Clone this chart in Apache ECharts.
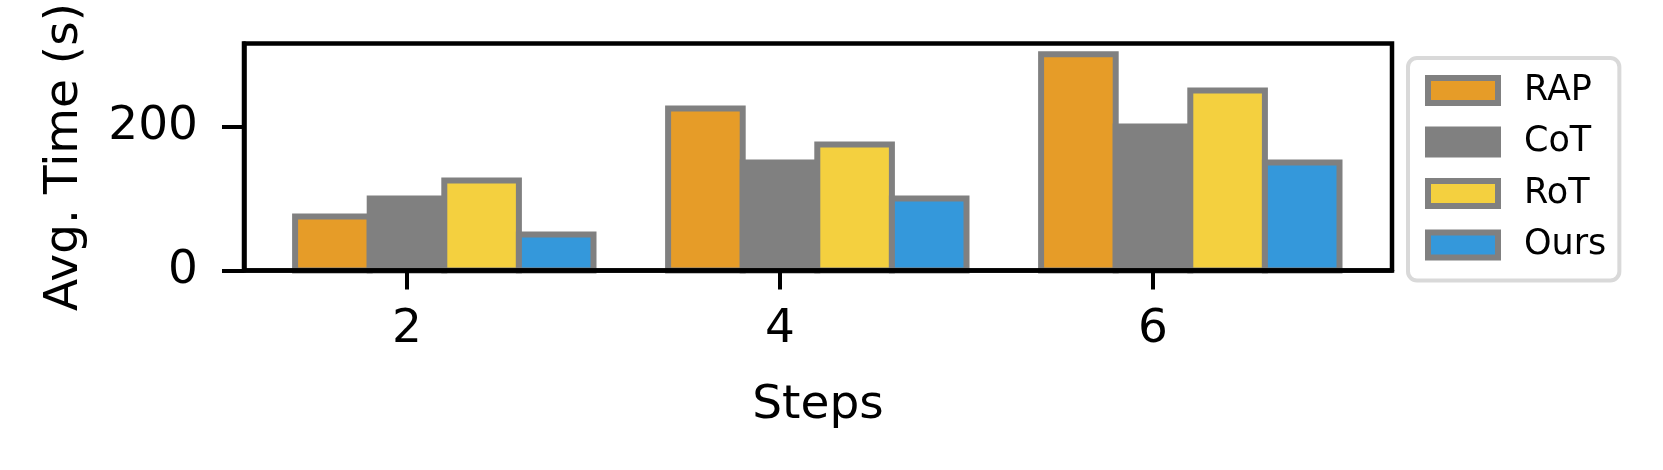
<!DOCTYPE html>
<html>
<head>
<meta charset="utf-8">
<script src="https://cdn.jsdelivr.net/npm/echarts@6/dist/echarts.min.js"></script>
<style>
html,body{margin:0;padding:0;background:#fff;}
#main{width:1663px;height:470px;}
</style>
</head>
<body>
<div id="main"></div>
<script>
const steps = [2, 4, 6];
const seriesNames = ['RAP', 'CoT', 'RoT', 'Ours'];
const rapTimes = [75, 225, 300];
const cotTimes = [100, 150, 200];
const rotTimes = [125, 175, 250];
const oursTimes = [50, 100, 150];
const yTickValues = [0, 200];
const colors = ['#E69C28', '#808080', '#F4D03F', '#3498DB'];

const allValues = [rapTimes, cotTimes, rotTimes, oursTimes];
const font = 'DejaVu Sans';
const BAR_W = 0.4;          // bar width in x-axis units (matplotlib style)
const EDGE = '#808080';

const chart = echarts.init(document.getElementById('main'), null, {renderer: 'canvas'});

const series = seriesNames.map((name, k) => ({
  name: name,
  type: 'custom',
  xAxisIndex: 0,
  yAxisIndex: 0,
  encode: {x: 0, y: 1},
  data: steps.map((s, i) => [s, allValues[k][i]]),
  itemStyle: {color: colors[k], borderColor: EDGE, borderWidth: 6},
  renderItem: function (params, api) {
    const xc = api.value(0) + (k - 1) * BAR_W;
    const v = api.value(1);
    const pTop = api.coord([xc - BAR_W / 2, v]);
    const pBot = api.coord([xc + BAR_W / 2, 0]);
    return {
      type: 'rect',
      shape: {x: pTop[0], y: pTop[1], width: pBot[0] - pTop[0], height: pBot[1] - pTop[1]},
      style: {fill: colors[k], stroke: EDGE, lineWidth: 6}
    };
  },
  clip: false,
  emphasis: {disabled: true},
  z: 2
}));

chart.setOption({
  animation: false,
  backgroundColor: '#ffffff',
  textStyle: {fontFamily: font},
  grid: {
    left: 244, right: 271, top: 43, bottom: 199.5,
    show: true, borderColor: '#000', borderWidth: 4.5, backgroundColor: 'transparent', z: 10
  },
  legend: {
    left: 1408, top: 58, orient: 'vertical',
    padding: [15, 13, 18, 17],
    itemGap: 16.5, itemWidth: 70, itemHeight: 25,
    icon: 'rect',
    backgroundColor: '#fff',
    borderColor: '#d9d9d9', borderWidth: 4, borderRadius: 9,
    itemStyle: {borderColor: EDGE, borderWidth: 6},
    textStyle: {fontFamily: font, fontSize: 35, color: '#000', padding: [0, 0, 0, 21]},
    data: seriesNames,
    selectedMode: false
  },
  xAxis: {
    type: 'value', min: 1.126, max: 7.2815, position: 'bottom', z: 10,
    name: 'Steps', nameLocation: 'middle', nameGap: 112,
    nameTextStyle: {fontFamily: font, fontSize: 47, color: '#000'},
    axisLine: {show: true, onZero: false, lineStyle: {color: '#000', width: 4.5}},
    axisTick: {show: true, length: 19, lineStyle: {color: '#000', width: 4}, customValues: steps},
    axisLabel: {show: true, margin: 36, fontFamily: font, fontSize: 47, color: '#000', customValues: steps},
    splitLine: {show: false}
  },
  yAxis: {
    type: 'value', min: 0, max: 315, z: 10,
    name: 'Avg. Time (s)', nameLocation: 'middle', nameGap: 156,
    nameTextStyle: {fontFamily: font, fontSize: 47, color: '#000'},
    axisLine: {show: true, lineStyle: {color: '#000', width: 4.5}},
    axisTick: {show: true, length: 22, lineStyle: {color: '#000', width: 4}, customValues: yTickValues},
    axisLabel: {show: true, margin: 46, fontFamily: font, fontSize: 47, color: '#000', customValues: yTickValues},
    splitLine: {show: false}
  },
  series: series
});
</script>
</body>
</html>
